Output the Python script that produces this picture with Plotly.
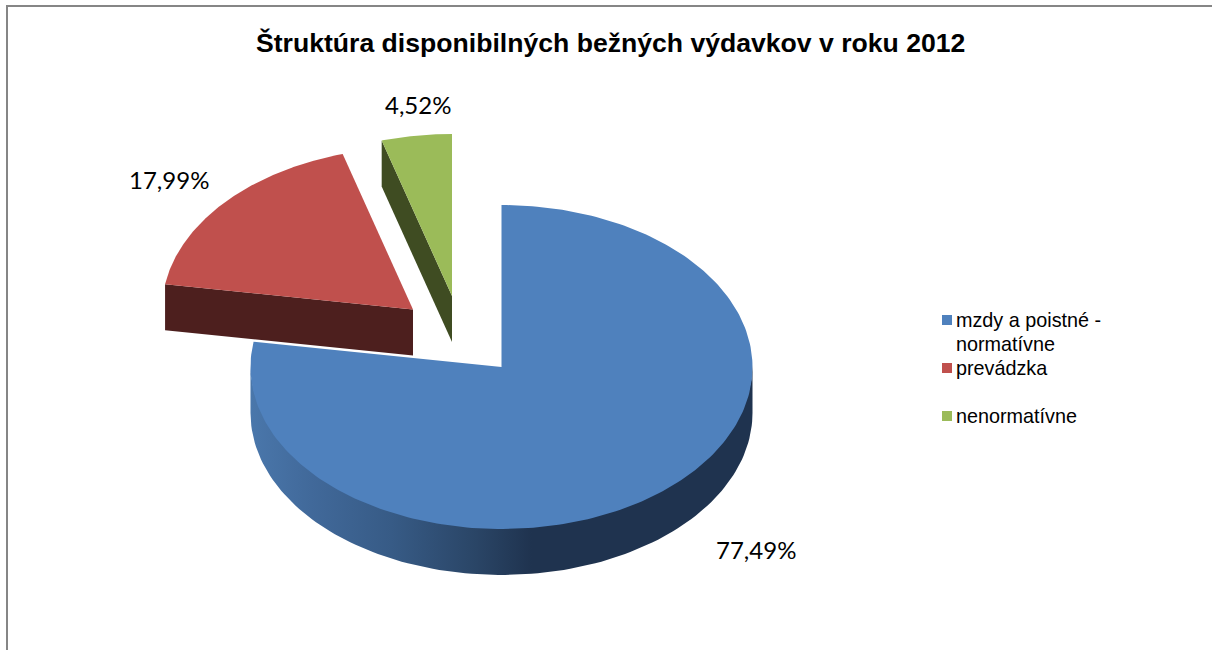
import numpy as np
import plotly.graph_objects as go

title = "Štruktúra disponibilných bežných výdavkov v roku 2012"
categories = ["mzdy a poistné -<br>normatívne", "prevádzka", "nenormatívne"]
values = [77.49, 17.99, 4.52]
colors = ["#4f81bd", "#c0504d", "#9bbb59"]
side_colors = ["#1f334f", "#4d1f1e", "#3f4c22"]

# pixel-based drawing frame for the tilted pie
RX, RY, DEPTH = 251, 162, 46
APEX = [(501.5, 367), (413, 309.5), (452, 296)]
LABEL_POS = [(756, 549), (169, 179), (418, 104)]
LEGEND_X, LEGEND_TEXT_X, LEGEND_Y, LEGEND_STEP = 947, 955, 320, 24
LEGEND_ROWS = [0, 2, 4]

def rim(apex, a0, a1, n=120, drop=0):
    t = np.radians(np.linspace(a0, a1, n))
    return apex[0] + RX * np.sin(t), apex[1] - RY * np.cos(t) + drop

fig = go.Figure()
start = 0.0
total = sum(values)
slices = []
for v in values:
    end = start + v / total * 360
    slices.append((start, end))
    start = end

# blue outer wall (only the front half of the rim is visible);
# its upper edge runs slightly under the top face so no seam shows
tx, ty = rim(APEX[0], 90, 270, drop=-3)
bx, by = rim(APEX[0], 270, 90, drop=DEPTH)
fig.add_trace(go.Scatter(
    x=np.r_[tx, bx], y=np.r_[ty, by], mode="lines", line=dict(width=0),
    fill="toself", showlegend=False, hoverinfo="skip",
    fillgradient=dict(type="horizontal", colorscale=[
        [0.00, "#4a77ab"], [0.12, "#41699a"], [0.28, "#375b86"],
        [0.45, "#2a4566"], [0.56, "#1f334f"], [1.00, "#1f334f"]]),
))

for i, (a0, a1) in enumerate(slices):
    ax, ay = APEX[i]
    if i > 0:
        # cut face of the exploded slice
        px, py = rim(APEX[i], a0, a0, n=1)
        fig.add_trace(go.Scatter(
            x=[px[0], ax, ax, px[0], px[0]],
            y=[py[0], ay, ay + DEPTH, py[0] + DEPTH, py[0]],
            mode="lines", line=dict(width=0), fill="toself",
            fillcolor=side_colors[i], showlegend=False, hoverinfo="skip"))
    rx_, ry_ = rim(APEX[i], a0, a1, n=240)
    fig.add_trace(go.Scatter(
        x=np.r_[ax, rx_, ax], y=np.r_[ay, ry_, ay],
        mode="lines", line=dict(width=0), fill="toself",
        fillcolor=colors[i], showlegend=False,
        hoverinfo="text", text=f"{values[i]:.2f}%"))

annotations = [
    dict(x=x, y=y, xref="x", yref="y", showarrow=False,
         text=f"{v:.2f}%".replace(".", ","),
         font=dict(family="Lato", size=24, color="#000000"))
    for (x, y), v in zip(LABEL_POS, values)
]
annotations.append(dict(
    x=610, y=43, xref="x", yref="y", showarrow=False, text=f"<b>{title}</b>",
    font=dict(family="Liberation Sans", size=26.6, color="#000000")))

# legend keys with the source chart's tight row spacing
for c, col, row in zip(categories, colors, LEGEND_ROWS):
    y0 = LEGEND_Y + row * LEGEND_STEP
    fig.add_trace(go.Scatter(
        x=[LEGEND_X], y=[y0], mode="markers", name=c, showlegend=False,
        hoverinfo="name", marker=dict(symbol="square", size=10, color=col)))
    for j, line in enumerate(c.split("<br>")):
        annotations.append(dict(
            x=LEGEND_TEXT_X, y=y0 + j * LEGEND_STEP, xref="x", yref="y",
            xanchor="left", showarrow=False, text=line, xshift=-1,
            font=dict(family="Liberation Sans", size=19.8, color="#000000")))

fig.update_layout(
    width=1212, height=650, autosize=False,
    margin=dict(l=0, r=0, t=0, b=0),
    paper_bgcolor="white", plot_bgcolor="white",
    xaxis=dict(range=[0, 1212], visible=False, fixedrange=True),
    yaxis=dict(range=[650, 0], visible=False, fixedrange=True),
    annotations=annotations,
    showlegend=False,
    shapes=[dict(type="line", xref="x", yref="y", x0=7, y0=650, x1=7, y1=6,
                 line=dict(color="#868686", width=2)),
            dict(type="line", xref="x", yref="y", x0=6, y0=6, x1=1212, y1=6,
                 line=dict(color="#868686", width=2))],
)
fig.write_html("out.html", config=dict(displayModeBar=False),
               post_script="document.body.style.margin='0';")
